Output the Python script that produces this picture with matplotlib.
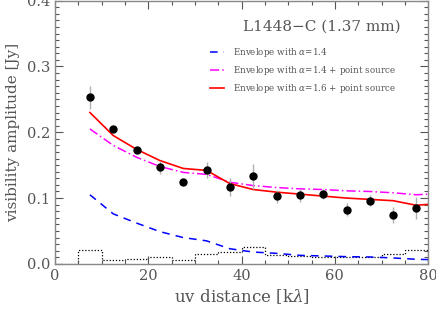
import matplotlib
matplotlib.use("Agg")
import matplotlib.pyplot as plt
import numpy as np
from matplotlib.ticker import MultipleLocator

# data
uv = [7.5, 12.5, 17.5, 22.5, 27.5, 32.5, 37.5, 42.5, 47.5, 52.5, 57.5, 62.5, 67.5, 72.5, 77.5]
amp = [0.253, 0.205, 0.173, 0.147, 0.125, 0.143, 0.117, 0.133, 0.103, 0.104, 0.106, 0.082, 0.096, 0.074, 0.085]
err = [0.018, 0.004, 0.005, 0.010, 0.004, 0.012, 0.014, 0.019, 0.010, 0.010, 0.008, 0.010, 0.008, 0.012, 0.017]

model_x = [7.5, 12.5, 17.5, 22.5, 27.5, 32.5, 37.5, 42.5, 47.5, 52.5, 57.5, 62.5, 67.5, 72.5, 77.5, 82.5]
env14 = [0.105, 0.076, 0.062, 0.049, 0.040, 0.035, 0.023, 0.018, 0.016, 0.013, 0.012, 0.011, 0.0105, 0.009, 0.007, 0.006]
env14_ps = [0.205, 0.180, 0.162, 0.148, 0.139, 0.136, 0.124, 0.119, 0.116, 0.114, 0.113, 0.111, 0.110, 0.108, 0.105, 0.107]
env16_ps = [0.230, 0.195, 0.174, 0.157, 0.145, 0.142, 0.122, 0.113, 0.109, 0.106, 0.103, 0.100, 0.098, 0.096, 0.089, 0.092]

bin_edges = [0, 5, 10, 15, 20, 25, 30, 35, 40, 45, 50, 55, 60, 65, 70, 75, 80]
zero_exp = [0.0, 0.021, 0.006, 0.008, 0.010, 0.006, 0.015, 0.018, 0.025, 0.013, 0.012, 0.010, 0.010, 0.011, 0.015, 0.021]

gray = "#555555"
plt.rcParams["font.family"] = ["DejaVu Serif"]
plt.rcParams["mathtext.fontset"] = "dejavuserif"

fig = plt.figure(figsize=(4.36, 3.09), dpi=100)
ax = fig.add_axes([0.126, 0.146, 0.856, 0.852])

ax.errorbar(uv, amp, yerr=err, fmt="o", color="black", ms=5, ecolor="#b0b0b0",
            elinewidth=1.0, capsize=0, zorder=5)
ax.plot(model_x, env14, color="blue", ls=(0, (5, 4)), lw=1.1,
        label=r"Envelope with $\alpha$=1.4")
ax.plot(model_x, env14_ps, color="magenta", ls=(0, (6, 2, 1, 2)), lw=1.1,
        label=r"Envelope with $\alpha$=1.4 + point source")
ax.plot(model_x, env16_ps, color="red", ls="-", lw=1.2,
        label=r"Envelope with $\alpha$=1.6 + point source")
ax.stairs(zero_exp, bin_edges, color="black", ls=(0, (1, 1.5)), lw=0.9)

ax.set_xlim(0, 80)
ax.set_ylim(0, 0.4)
ax.xaxis.set_major_locator(MultipleLocator(20))
ax.xaxis.set_minor_locator(MultipleLocator(5))
ax.yaxis.set_major_locator(MultipleLocator(0.1))
ax.yaxis.set_minor_locator(MultipleLocator(0.01))
ax.yaxis.set_major_formatter(matplotlib.ticker.FormatStrFormatter("%.1f"))
ax.tick_params(which="both", direction="in", top=True, right=True, colors=gray,
               labelcolor=gray, labelsize=10.5)
ax.tick_params(which="major", length=6, width=0.8)
ax.tick_params(which="minor", length=3, width=0.8)
for s in ax.spines.values():
    s.set_color("#888888")
    s.set_linewidth(1.0)

ax.set_xlabel(r"uv distance [k$\lambda$]", color=gray, fontsize=12, labelpad=3)
ax.set_ylabel("visibility amplitude [Jy]", color=gray, fontsize=11, labelpad=5)

ax.text(0.716, 0.90, "L1448\u2212C (1.37 mm)", transform=ax.transAxes, ha="center",
        va="center", color=gray, fontsize=11)

leg = ax.legend(loc="upper left", bbox_to_anchor=(0.405, 0.84), frameon=False,
                fontsize=6.3, handlelength=1.7, handletextpad=1.0, labelspacing=0.55,
                borderaxespad=0)
for t in leg.get_texts():
    t.set_color(gray)

fig.savefig("out.png", dpi=100)
